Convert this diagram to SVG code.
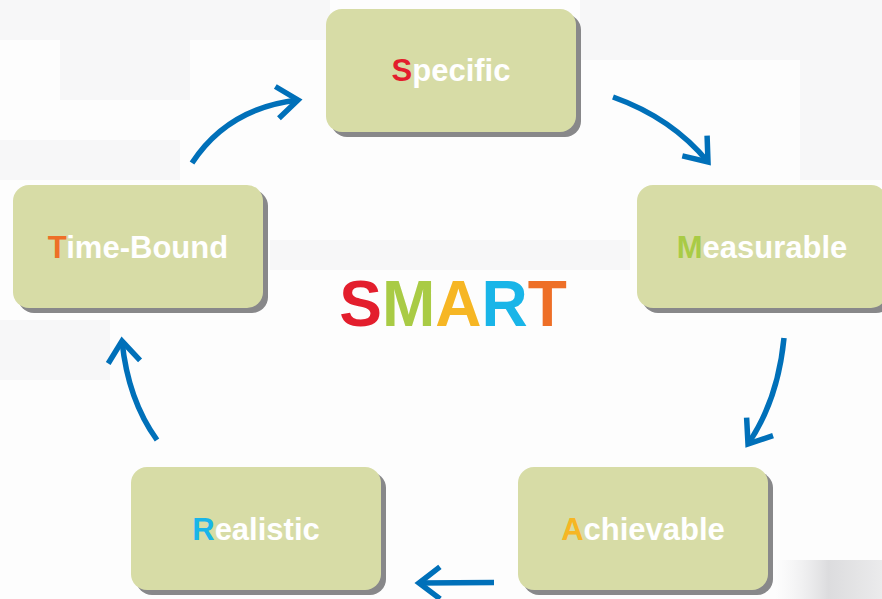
<svg xmlns="http://www.w3.org/2000/svg" width="882" height="599" viewBox="0 0 882 599">
<defs>
<style>
.shadow{fill:#88888a}
.box{fill:#d7dca6}
.lbl{font-family:"Liberation Sans",Arial,sans-serif;font-weight:bold;font-size:31px;fill:#ffffff;text-anchor:middle}
.arr{fill:none;stroke:#0070b9;stroke-width:5.5;marker-end:url(#chev)}
.title{font-family:"Liberation Sans",Arial,sans-serif;font-weight:bold;font-size:64px;text-anchor:middle}
</style>
<marker id="chev" markerUnits="userSpaceOnUse" markerWidth="44" markerHeight="44" viewBox="-32 -22 44 44" refX="0" refY="0" orient="auto">
<path d="M-21,-16 L0,0 L-21,16" fill="none" stroke="#0070b9" stroke-width="5.5" stroke-linecap="butt" stroke-linejoin="miter"/>
</marker>
<linearGradient id="blot" x1="0" y1="0" x2="1" y2="0">
<stop offset="0" stop-color="#ececee" stop-opacity="0"/>
<stop offset="0.5" stop-color="#dcdcde"/>
<stop offset="1" stop-color="#ebebec"/>
</linearGradient>
</defs>
<rect x="0" y="0" width="882" height="599" fill="#fdfdfd"/>
<g id="background" fill="#f7f7f8">
<rect x="0" y="0" width="330" height="40"/>
<rect x="60" y="40" width="130" height="60"/>
<rect x="0" y="140" width="180" height="40"/>
<rect x="580" y="0" width="302" height="60"/>
<rect x="800" y="60" width="82" height="120"/>
<rect x="270" y="240" width="360" height="30"/>
<rect x="0" y="320" width="110" height="60"/>
<rect x="775" y="560" width="107" height="39" fill="url(#blot)"/>
</g>
<g id="connectors">
<path class="arr" d="M192,163 Q228,108 298,100"/>
<path class="arr" d="M613,97 Q672,118 708,162"/>
<path class="arr" d="M784,338 Q778,400 748,444"/>
<path class="arr" d="M494,582.5 L419,583"/>
<path class="arr" d="M157,440 Q128,400 122,341"/>
</g>
<g id="node-specific">
<rect class="shadow" x="331" y="14" width="250" height="123" rx="16"/>
<rect class="box" x="326" y="9" width="250" height="123" rx="16"/>
<text class="lbl" x="451" y="81"><tspan fill="#e31e2d">S</tspan>pecific</text>
</g>
<g id="node-measurable">
<rect class="shadow" x="642" y="190" width="250" height="123" rx="16"/>
<rect class="box" x="637" y="185" width="250" height="123" rx="16"/>
<text class="lbl" x="762" y="258"><tspan fill="#a9cb45">M</tspan>easurable</text>
</g>
<g id="node-achievable">
<rect class="shadow" x="523" y="472" width="250" height="123" rx="16"/>
<rect class="box" x="518" y="467" width="250" height="123" rx="16"/>
<text class="lbl" x="643" y="540"><tspan fill="#f6b624">A</tspan>chievable</text>
</g>
<g id="node-realistic">
<rect class="shadow" x="136" y="472" width="250" height="123" rx="16"/>
<rect class="box" x="131" y="467" width="250" height="123" rx="16"/>
<text class="lbl" x="256" y="540"><tspan fill="#19b5e8">R</tspan>ealistic</text>
</g>
<g id="node-timebound">
<rect class="shadow" x="18" y="190" width="250" height="123" rx="16"/>
<rect class="box" x="13" y="185" width="250" height="123" rx="16"/>
<text class="lbl" x="138" y="258"><tspan fill="#ee6f27">T</tspan>ime-Bound</text>
</g>
<g id="title">
<text class="title" x="453" y="326"><tspan fill="#e31e2d">S</tspan><tspan fill="#a9cb45">M</tspan><tspan fill="#f6b624">A</tspan><tspan fill="#19b5e8">R</tspan><tspan fill="#ee6f27">T</tspan></text>
</g>
</svg>
